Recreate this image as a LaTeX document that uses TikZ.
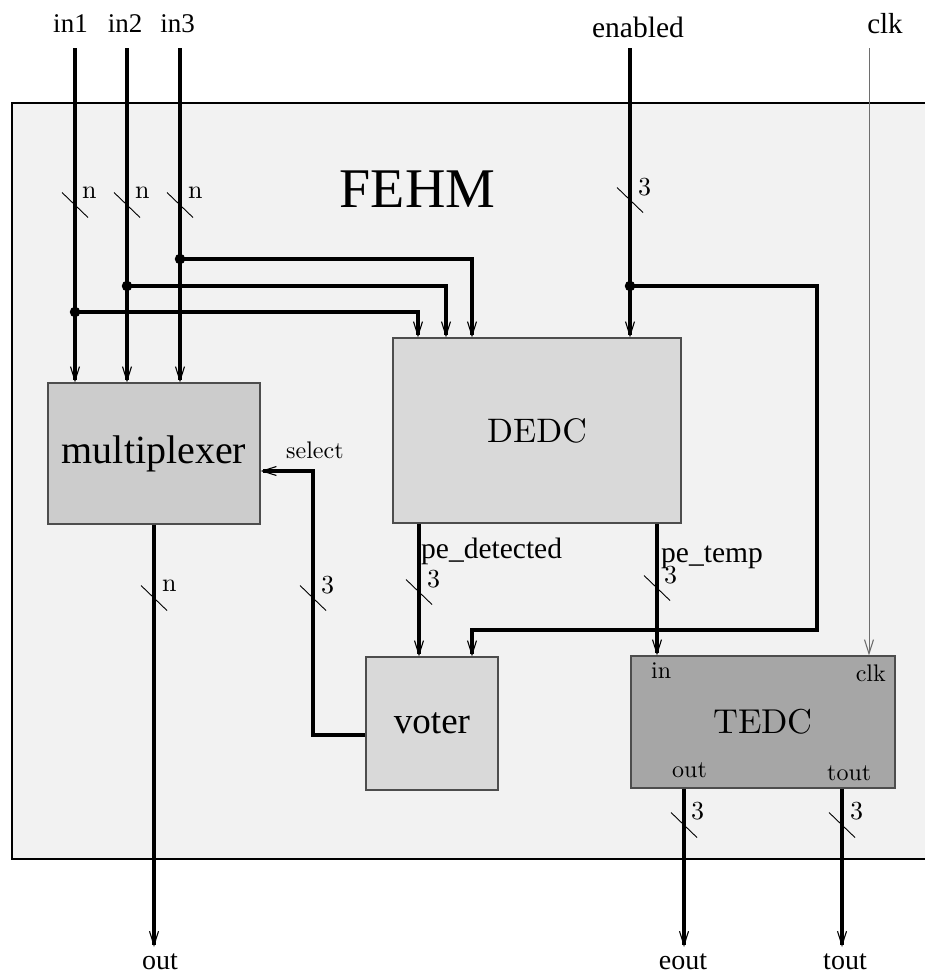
\documentclass[tikz,border=0pt]{standalone}
\usepackage{fontspec}
\newfontfamily\tms{Liberation Serif}
\newfontfamily\lmten{lmroman10-regular}[Extension=.otf]
\usetikzlibrary{arrows.meta}
\definecolor{fehmbg}{HTML}{F2F2F2}
\definecolor{muxfill}{HTML}{CCCCCC}
\definecolor{blkfill}{HTML}{D9D9D9}
\definecolor{tedcfill}{HTML}{A6A6A6}
\definecolor{edge}{HTML}{4D4D4D}
\definecolor{clkwire}{HTML}{6E6E6E}
\tikzset{
  buswidth/.pic={\draw[line width=0.9pt] (-13,-12.5) -- (13,12.5);},
  bus/.style={line width=3.2pt},
  clkline/.style={line width=1pt,draw=clkwire},
  blk/.style={draw=edge,line width=1.2pt,inner sep=0pt},
  outer/.style={font=\tms\fontsize{28}{32}\selectfont,inner sep=0pt},
  pelbl/.style={font=\tms\fontsize{29.5}{32}\selectfont,inner sep=0pt},
  small/.style={font=\lmten\fontsize{24}{28}\selectfont,inner sep=0pt},
  widthlbl/.style={font=\lmten\fontsize{26}{30}\selectfont,inner sep=0pt},
  dotmark/.style={circle,fill=black,inner sep=0pt,minimum size=10.5pt},
}
\begin{document}
\begin{tikzpicture}[x=1pt,y=-1pt,
  >={Straight Barb[length=14pt,width=9pt,line width=1.1pt]}]
\useasboundingbox (0,0) rectangle (925,975);
% outer FEHM box
\fill[fehmbg] (12,103) rectangle (925,859);
\draw[line width=1.5pt] (925,103) -- (12,103) -- (12,859) -- (925,859);
\node[font=\tms\fontsize{56}{60}\selectfont,anchor=base,inner sep=0pt] (fehm) at (417.5,207) {FEHM};

% blocks
\node[blk,fill=muxfill,minimum width=212pt,minimum height=141pt,font=\tms\fontsize{40}{44}\selectfont] (mux) at (154,453.5) {multiplexer};
\node[blk,fill=blkfill,minimum width=288pt,minimum height=185pt,font=\lmten\fontsize{34}{40}\selectfont] (dedc) at (537,430.5) {DEDC};
\node[blk,fill=blkfill,minimum width=132pt,minimum height=133pt,font=\tms\fontsize{37}{42}\selectfont] (voter) at (432,723.5) {voter};
\node[blk,fill=tedcfill,minimum width=264pt,minimum height=132pt,font=\lmten\fontsize{34.5}{40}\selectfont] (tedc) at (763,722) {TEDC};

% top labels
\node[outer,font=\tms\fontsize{27}{30}\selectfont,anchor=base] (in1) at (70.5,32) {in1};
\node[outer,font=\tms\fontsize{27}{30}\selectfont,anchor=base] (in2) at (125,32) {in2};
\node[outer,font=\tms\fontsize{27}{30}\selectfont,anchor=base] (in3) at (177.5,32) {in3};
\node[outer,font=\tms\fontsize{29.5}{32}\selectfont,anchor=base] (enabled) at (638,37) {enabled};
\node[outer,font=\tms\fontsize{29}{32}\selectfont,anchor=base] (clk) at (885,33) {clk};

% bottom labels
\node[outer,anchor=base] (outlbl) at (160,969) {out};
\node[outer,anchor=base] (eoutlbl) at (683,969) {eout};
\node[outer,anchor=base] (toutlbl) at (845,969) {tout};

% input buses
\coordinate (s1) at (75,48);
\coordinate (s2) at (127,48);
\coordinate (s3) at (180,48);
\draw[bus,->] (s1) -- (s1 |- mux.north);
\draw[bus,->] (s2) -- (s2 |- mux.north);
\draw[bus,->] (s3) -- (s3 |- mux.north);
\node[dotmark] (j1) at (75,312) {};
\node[dotmark] (j2) at (127,286) {};
\node[dotmark] (j3) at (180,259) {};
\coordinate (d1) at ([xshift=-119pt]dedc.north);
\coordinate (d2) at ([xshift=-91pt]dedc.north);
\coordinate (d3) at ([xshift=-65pt]dedc.north);
\draw[bus,->] (j1.center) -| (d1);
\draw[bus,->] (j2.center) -| (d2);
\draw[bus,->] (j3.center) -| (d3);
\pic at (75,205) {buswidth};
\pic at (127,205) {buswidth};
\pic at (180,205) {buswidth};
\node[widthlbl,anchor=base west] (n1) at (82,198) {n};
\node[widthlbl,anchor=base west] (n2) at (135,198) {n};
\node[widthlbl,anchor=base west] (n3) at (188,198) {n};

% enabled
\coordinate (se) at (630,48);
\draw[bus,->] (se) -- (se |- dedc.north);
\node[dotmark] (je) at (630,286) {};
\coordinate (loopa) at (817,286);
\coordinate (loopb) at (817,630);
\coordinate (vin) at ([xshift=40pt]voter.north);
\draw[bus,->] (je.center) -- (loopa) -- (loopb) -| (vin);
\pic at (630,200) {buswidth};
\node[widthlbl,anchor=base west] (en3) at (638,195) {3};

% clk
\coordinate (sc) at (869,48);
\draw[clkline,->] (sc) -- (sc |- tedc.north);

% multiplexer output
\coordinate (mo) at (154,947);
\draw[bus,->] (mux.south) -- (mo);
\pic at (154,598) {buswidth};
\node[widthlbl,anchor=base west] (n4) at (162,591) {n};

% select
\coordinate (vo) at ([yshift=-11.5pt]voter.west);
\coordinate (mi) at ([yshift=-17.5pt]mux.east);
\coordinate (selbend) at (313,735);
\draw[bus,->] (vo) -- (selbend) |- (mi);
\node[small,anchor=base west] (sel) at (286,458) {select};
\pic at (313,598) {buswidth};
\node[widthlbl,anchor=base west] (sel3) at (321,593) {3};

% pe_detected
\coordinate (pd) at ([xshift=-118pt]dedc.south);
\draw[bus,->] (pd) -- (pd |- voter.north);
\node[pelbl,anchor=base west] (pdl) at (421,558) {pe\_detected};
\pic at (419,592) {buswidth};
\node[widthlbl,anchor=base west] (pd3) at (427,587) {3};

% pe_temp
\coordinate (pt) at ([xshift=120pt]dedc.south);
\draw[bus,->] (pt) -- (pt |- tedc.north);
\node[pelbl,anchor=base west] (ptl) at (661,562) {pe\_temp};
\pic at (657,588) {buswidth};
\node[widthlbl,anchor=base west] (pt3) at (664,583) {3};

% TEDC ports
\node[small,anchor=base west] (tin) at (651,678) {in};
\node[small,anchor=base east] (tclk) at (886,681) {clk};
\node[small,anchor=base west] (tout) at (672,777) {out};
\node[small,anchor=base west] (ttout) at (827,780) {tout};

% TEDC outputs
\coordinate (eo) at ([xshift=-79pt]tedc.south);
\coordinate (to) at ([xshift=79pt]tedc.south);
\coordinate (eoe) at (684,947);
\coordinate (toe) at (842,947);
\draw[bus,->] (eo) -- (eoe);
\draw[bus,->] (to) -- (toe);
\pic at (684,825) {buswidth};
\pic at (842,825) {buswidth};
\node[widthlbl,anchor=base west] (eo3) at (691,819) {3};
\node[widthlbl,anchor=base west] (to3) at (850,819) {3};
\end{tikzpicture}
\end{document}
